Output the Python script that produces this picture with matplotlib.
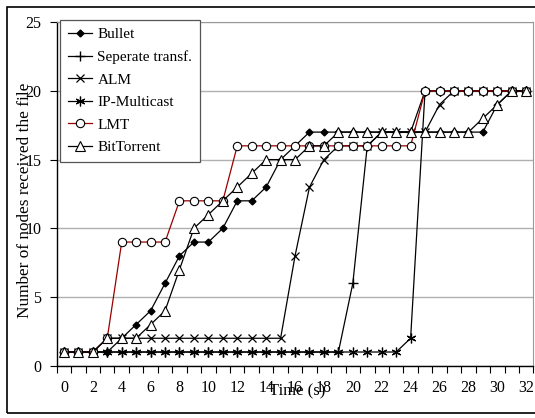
import numpy as np
import matplotlib
matplotlib.use("Agg")
import matplotlib.pyplot as plt
from matplotlib.patches import Rectangle

plt.rcParams['font.family'] = ['Liberation Serif', 'DejaVu Serif']

# 数据：时间 0~32 秒，各方案已收到文件的节点数
t = list(range(33))
bullet = [1, 1, 1, 1, 2, 3, 4, 6, 8, 9, 9, 10, 12, 12, 13, 15, 16,
          17, 17, 17, 17, 17, 17, 17, 17, 17, 17, 17, 17, 17, 19, 20, 20]
seperate = [1] * 20 + [6, 16, 17, 17, 17] + [20] * 8
alm = [1, 1, 1, 2] + [2] * 12 + [8, 13, 15, 16, 16, 16, 17, 17, 17, 17, 19] + [20] * 6
ip_multicast = [1] * 24 + [2] + [20] * 8
lmt = [1, 1, 1, 2, 9, 9, 9, 9, 12, 12, 12, 12] + [16] * 13 + [20] * 8
bittorrent = [1, 1, 1, 2, 2, 2, 3, 4, 7, 10, 11, 12, 13, 14, 15, 15, 15, 16, 16] \
    + [17] * 10 + [18, 19, 20, 20]

fig = plt.figure(figsize=(5.35, 4.18), dpi=100)
ax = fig.add_axes([0.106, 0.125, 0.891, 0.822])

lw = 0.9
ax.plot(t, bullet, color="black", lw=lw, marker="D", ms=3.5, mfc="black",
        mec="black", label="Bullet")
ax.plot(t, seperate, color="black", lw=lw, marker="+", ms=7, mew=1,
        label="Seperate transf.")
ax.plot(t, alm, color="black", lw=lw, marker="x", ms=6, mew=0.9, label="ALM")
ax.plot(t, ip_multicast, color="black", lw=lw, marker=(6, 2, 0), ms=7, mew=0.9,
        label="IP-Multicast")
ax.plot(t, lmt, color="#990000", lw=lw, marker="o", ms=6, mfc="white",
        mec="black", mew=0.8, label="LMT")
ax.plot(t, bittorrent, color="black", lw=lw, marker="^", ms=7, mfc="white",
        mec="black", mew=0.8, label="BitTorrent")

ax.set_xlim(-0.5, 32.5)
ax.set_ylim(0, 25)

# x 轴：刻度线在类别之间，标签每隔 2 个
ax.set_xticks(np.arange(-0.5, 33, 1))
ax.set_xticklabels([])
ax.set_xticks(np.arange(0, 33, 2), minor=True)
ax.set_xticklabels([str(v) for v in range(0, 33, 2)], minor=True, fontsize=11.5)
ax.tick_params(axis="x", which="major", direction="out", length=5, width=0.8)
ax.tick_params(axis="x", which="minor", length=0, pad=10)

ax.set_yticks(range(0, 26, 5))
ax.tick_params(axis="y", direction="out", length=5, width=0.8, labelsize=11.5, pad=6)

ax.grid(axis="y", color="#b0b0b0", lw=1)
ax.set_axisbelow(True)
for s in ["top", "right"]:
    ax.spines[s].set_color("#999999")
for s in ["left", "bottom"]:
    ax.spines[s].set_color("black")
    ax.spines[s].set_linewidth(1)

ax.set_xlabel("Time (s)", fontsize=12)
ax.xaxis.set_label_coords(0.504, -0.074)
ax.xaxis.label.set_verticalalignment("center")
ax.set_ylabel("Number of nodes received the file", fontsize=12.4)
ax.yaxis.set_label_coords(-0.066, 0.482)
ax.yaxis.label.set_verticalalignment("center")

leg = ax.legend(loc="upper left", bbox_to_anchor=(60 / 535, 1 - 20 / 418),
                bbox_transform=fig.transFigure, borderaxespad=0, fontsize=11,
                fancybox=False, framealpha=1, edgecolor="#555555",
                handlelength=1.6, handletextpad=0.35, labelspacing=0.58,
                borderpad=0.5, numpoints=1)
leg.get_frame().set_linewidth(0.9)

# 图表外框
fig.patches.append(Rectangle((7 / 535, 5 / 418), 1.02, 406 / 418, fill=False,
                             edgecolor="black", lw=1.2, transform=fig.transFigure))

plt.savefig("out.png", dpi=100)
